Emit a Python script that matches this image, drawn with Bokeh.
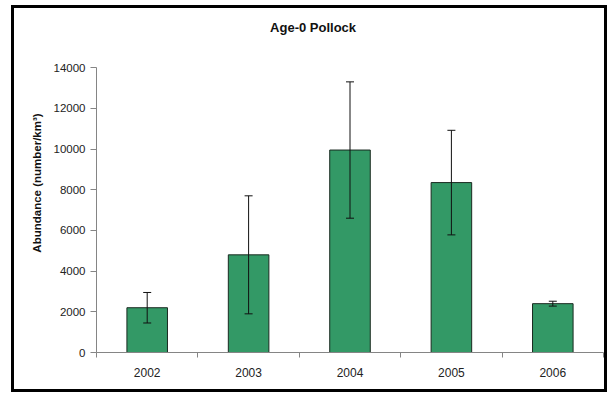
from bokeh.plotting import figure
from bokeh.models import (ColumnDataSource, Range1d, FixedTicker, Whisker, TeeHead,
                          Label, NumeralTickFormatter)
from bokeh.embed import file_html
from bokeh.resources import INLINE

# ---- data ----
years = ["2002", "2003", "2004", "2005", "2006"]
abundance = [2200, 4800, 9950, 8350, 2400]
errors = [750, 2900, 3350, 2570, 120]
y_ticks = [0, 2000, 4000, 6000, 8000, 10000, 12000, 14000]
title_text = "Age-0 Pollock"
y_label = "Abundance (number/km\u00b3)"

pos = list(range(len(years)))
src = ColumnDataSource(dict(
    x=pos,
    top=abundance,
    upper=[v + e for v, e in zip(abundance, errors)],
    lower=[v - e for v, e in zip(abundance, errors)],
))

FONT = "Liberation Sans"
AXIS_GREY = "#858585"

p = figure(width=590, height=381, output_backend="svg", toolbar_location=None,
           x_range=Range1d(-0.5, len(years) - 0.5), y_range=Range1d(0, 16660),
           min_border_left=82, min_border_right=7, min_border_top=5, min_border_bottom=43)
p.styles = {"border": "3px solid black", "box-sizing": "content-box",
            "margin-left": "11px", "margin-top": "5px"}
p.outline_line_color = None
p.xgrid.visible = False
p.ygrid.visible = False
p.background_fill_color = "white"
p.border_fill_color = "white"

p.vbar(x="x", top="top", width=0.4, bottom=0, source=src,
       fill_color="#339966", line_color="#1a2a20", line_width=1)

whisk = Whisker(base="x", upper="upper", lower="lower", source=src, level="overlay",
                line_color="#111111", line_width=1,
                upper_head=TeeHead(size=8, line_color="#111111", line_width=1),
                lower_head=TeeHead(size=8, line_color="#111111", line_width=1))
p.add_layout(whisk)

# x axis: labels at centres, tick marks at category boundaries
xa = p.xaxis[0]
xa.ticker = FixedTicker(ticks=pos, minor_ticks=[i - 0.5 for i in range(len(years) + 1)])
xa.major_label_overrides = {i: y for i, y in zip(pos, years)}
xa.major_tick_line_color = None
xa.major_tick_out = 0
xa.major_tick_in = 0
xa.minor_tick_out = 5
xa.minor_tick_in = 0
xa.minor_tick_line_color = AXIS_GREY
xa.axis_line_color = AXIS_GREY
xa.major_label_standoff = 10
xa.major_label_text_font = FONT
xa.major_label_text_font_size = "12px"
xa.major_label_text_color = "#222222"

ya = p.yaxis[0]
ya.ticker = FixedTicker(ticks=y_ticks)
ya.bounds = (y_ticks[0], y_ticks[-1])
ya.formatter = NumeralTickFormatter(format="0")
ya.major_tick_out = 6
ya.major_tick_in = 0
ya.minor_tick_line_color = None
ya.major_tick_line_color = AXIS_GREY
ya.axis_line_color = AXIS_GREY
ya.major_label_standoff = 5
ya.major_label_text_font = FONT
ya.major_label_text_font_size = "11.5px"
ya.major_label_text_color = "#222222"
ya.axis_label = y_label
ya.axis_label_text_font = FONT
ya.axis_label_text_font_size = "11.5px"
ya.axis_label_text_font_style = "bold"
ya.axis_label_text_color = "#111111"
ya.axis_label_standoff = 8

title = Label(x=1.636, y=15970, text=title_text, text_font=FONT, text_font_size="13px",
              text_font_style="bold", text_align="center", text_baseline="middle",
              text_color="#111111")
p.add_layout(title)

open("out.html", "w").write(file_html(p, INLINE))
